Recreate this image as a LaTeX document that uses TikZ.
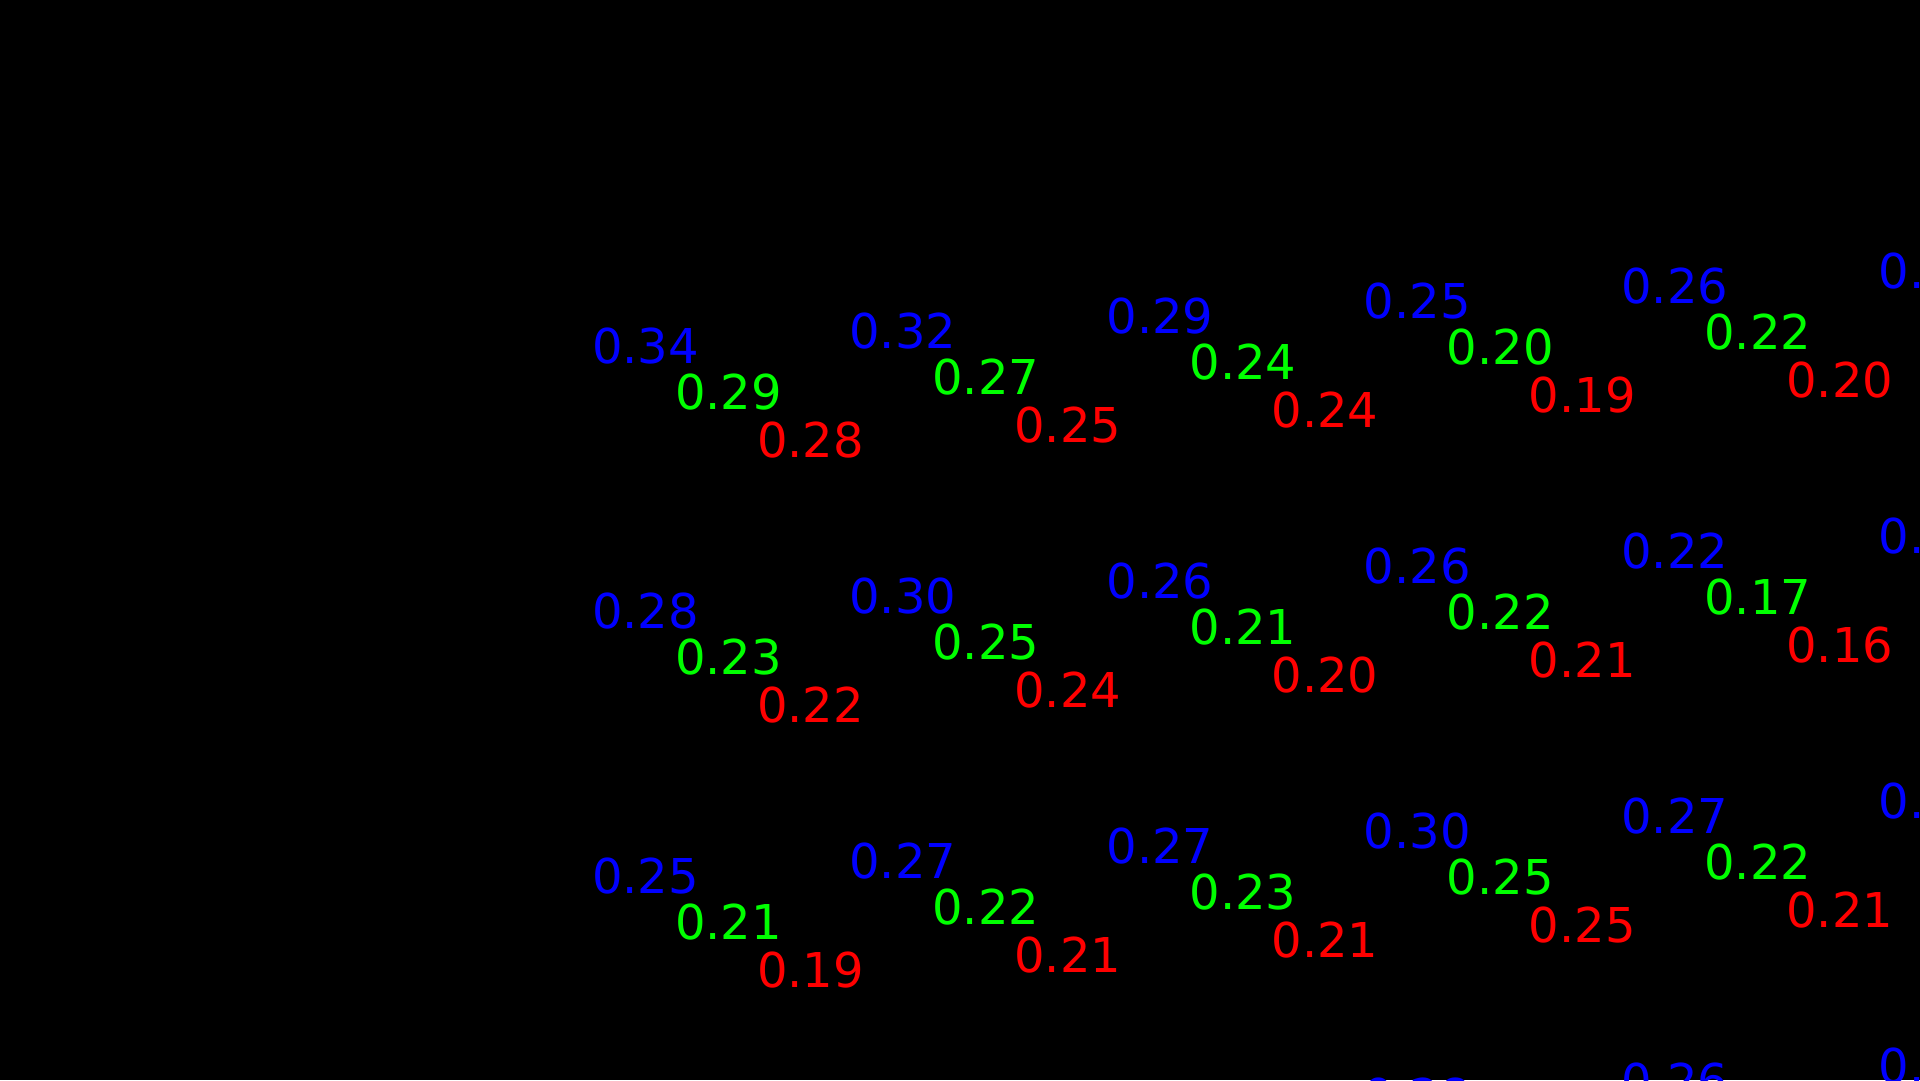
\documentclass[tikz,border=0pt]{standalone}
\usepackage{fontspec}
\setmainfont{DejaVu Sans}
\definecolor{valblue}{RGB}{0,0,255}
\definecolor{valgreen}{RGB}{0,255,0}
\definecolor{valred}{RGB}{255,0,0}
\begin{document}
\begin{tikzpicture}[x=1pt,y=-1pt,
  valtext/.style={anchor=base west, inner sep=0pt, outer sep=0pt, font=\fontsize{48}{58}\selectfont},
  bluetext/.style={valtext, text=valblue},
  greentext/.style={valtext, text=valgreen},
  redtext/.style={valtext, text=valred}]
\useasboundingbox (0,0) rectangle (1920,1080);
\clip (0,0) rectangle (1920,1080);
\fill[black] (0,0) rectangle (1920,1080);
\foreach \rr/\cc/\valB/\valG/\valR in {
  0/0/0.34/0.29/0.28, 0/1/0.32/0.27/0.25, 0/2/0.29/0.24/0.24, 0/3/0.25/0.20/0.19, 0/4/0.26/0.22/0.20, 0/5/0.25/0.21/0.20,
  1/0/0.28/0.23/0.22, 1/1/0.30/0.25/0.24, 1/2/0.26/0.21/0.20, 1/3/0.26/0.22/0.21, 1/4/0.22/0.17/0.16, 1/5/0.25/0.21/0.20,
  2/0/0.25/0.21/0.19, 2/1/0.27/0.22/0.21, 2/2/0.27/0.23/0.21, 2/3/0.30/0.25/0.25, 2/4/0.27/0.22/0.21, 2/5/0.25/0.21/0.20,
  3/0/0.25/0.21/0.20, 3/1/0.25/0.21/0.20, 3/2/0.25/0.21/0.20, 3/3/0.28/0.24/0.22, 3/4/0.26/0.22/0.21, 3/5/0.25/0.21/0.20}
{
  \node[bluetext]  (b\rr\cc) at ({592+257.3*\cc},{363+265*\rr-15*\cc}) {\valB};
  \node[greentext] (g\rr\cc) at ({675+257.3*\cc},{409.5+265*\rr-15*\cc}) {\valG};
  \node[redtext]   (r\rr\cc) at ({757+257.3*\cc},{457+265*\rr-15*\cc}) {\valR};
}
\end{tikzpicture}
\end{document}
